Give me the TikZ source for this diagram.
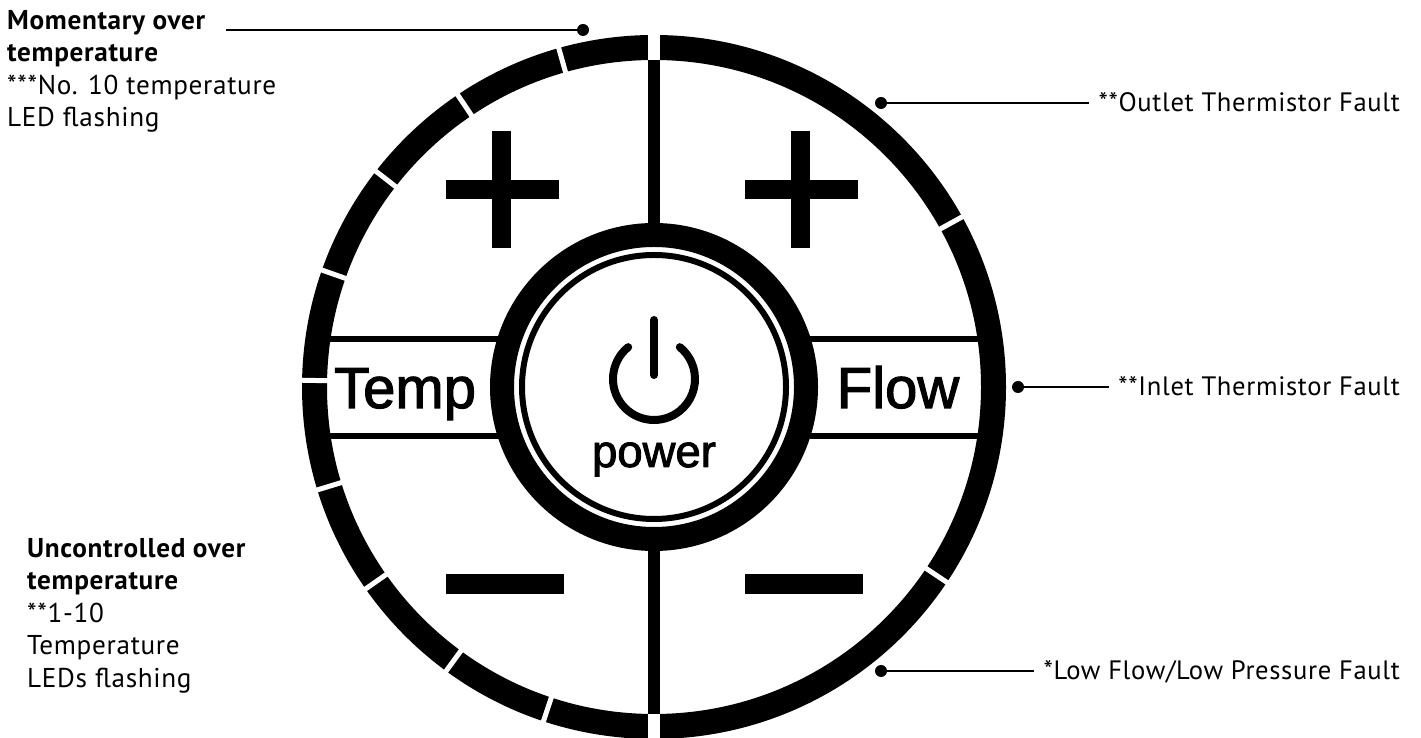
\documentclass[tikz,border=0pt]{standalone}
\usepackage{fontspec}
\usepackage{xcolor}
\usepackage{tikz}
\setmainfont[LetterSpace=2.5]{PT Sans}
\newfontfamily\panelfont[FakeBold=2]{Liberation Sans}
\usetikzlibrary{positioning, calc}

\begin{document}
\begin{tikzpicture}[
    x=1pt, y=1pt,
    catatan/.style={anchor=north west, align=left, inner sep=0pt,
                    font=\fontsize{27.2}{32.5}\selectfont},
    gangguan/.style={anchor=east, inner xsep=9pt, inner ysep=0pt, text height=18pt, text depth=0pt,
                     font=\fontsize{26.6}{32.5}\selectfont},
    titik/.style={circle, fill=black, inner sep=0pt, minimum size=12pt},
    garis/.style={line width=2pt},
    tombol/.style={anchor=base, inner sep=0pt, font=\panelfont\fontsize{58}{60}\selectfont},
    celah/.style={draw=white, line width=5pt},
    balok/.style={fill=black}
  ]
    \useasboundingbox (0,0) rectangle (1421,738);
    \coordinate (pusat) at (654,351);

    % divider bars
    \fill[balok] (648,20) rectangle (660,680);
    \fill[balok] (320,396) rectangle (500,402);
    \fill[balok] (320,299) rectangle (500,305);
    \fill[balok] (810,396) rectangle (990,402);
    \fill[balok] (810,299) rectangle (990,305);

    % rings
    \draw[line width=25pt] (pusat) circle (339.5);
    \fill[white] (648,678) rectangle (660,704);
    \fill[white] (648,-2) rectangle (660,24);
    \foreach \a in {105.7, 123.9, 142.2, 160.6, 178.9, 197, 215, 233.8, 251.7, 28.9, -33.7} {
      \draw[celah] ($(pusat)+(\a:324)$) -- ($(pusat)+(\a:355)$);
    }
    \draw[line width=24pt, fill=white] (pusat) circle (152);
    \draw[line width=6pt] (pusat) circle (132);

    % plus and minus
    \foreach \x in {446,745} {
      \fill[balok] (\x,538.5) rectangle ++(113,19.5);
      \fill[balok] (\x+46,490) rectangle ++(19,117);
      \fill[balok] (\x,144) rectangle ++(118,20);
    }

    % power symbol
    \draw[line width=8pt, line cap=round] (654,418) -- (654,363);
    \draw[line width=8pt, line cap=round] (654,359) ++(129:41) arc[start angle=129, end angle=411, radius=41];

    \node[tombol] (temp) at (405,330) {Temp};
    \node[tombol] (flow) at (898,330) {Flow};
    \node[tombol, font=\panelfont\fontsize{45.5}{48}\selectfont] (power) at (654,271) {power};

    % fault labels
    \node[titik] (dotMomentary) at (583,708) {};
    \node[titik] (dotOutlet) at (881,635) {};
    \node[titik] (dotInlet) at (1018,351) {};
    \node[titik] (dotLow) at (881,67) {};
    \coordinate (endMomentary) at (226,708);

    \node[catatan] (lblMomentary) at (7,728) {\textbf{Momentary over}\\\textbf{temperature}\\***No. 10 temperature\\LED flashing};
    \node[catatan] (lblUncontrolled) at (27,200) {\textbf{Uncontrolled over}\\\textbf{temperature}\\**1-10\\Temperature\\LEDs flashing};
    \node[gangguan] (lblOutlet) at (1409,635) {**Outlet Thermistor Fault};
    \node[gangguan] (lblInlet) at (1409,351) {**Inlet Thermistor Fault};
    \node[gangguan] (lblLow) at (1409,67) {*Low Flow/Low Pressure Fault};

    \draw[garis] (dotMomentary) -- (endMomentary);
    \draw[garis] (dotOutlet) -- (lblOutlet);
    \draw[garis] (dotInlet) -- (lblInlet);
    \draw[garis] (dotLow) -- (lblLow);
  \end{tikzpicture}
\end{document}
